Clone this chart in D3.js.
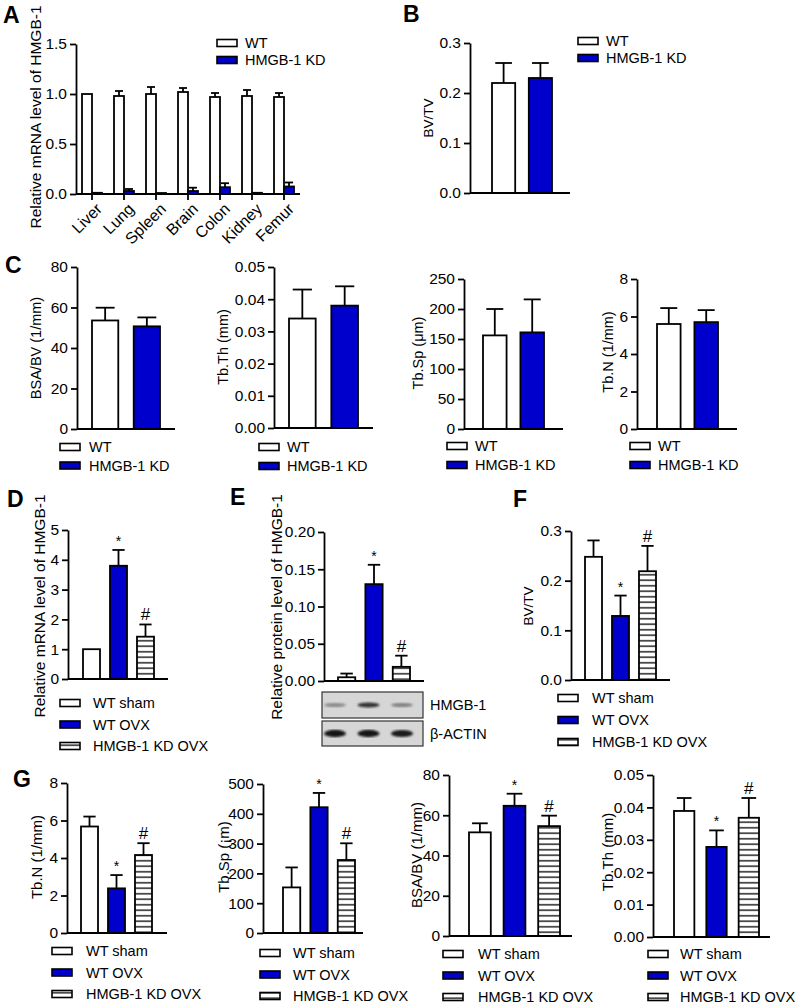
<!DOCTYPE html>
<html>
<head>
<meta charset="utf-8">
<script src="https://cdn.jsdelivr.net/npm/d3@7"></script>
<style>
  body { margin: 0; background: #fff; }
  svg { display: block; font-family: Arial, "Liberation Sans", sans-serif; }
</style>
</head>
<body>
<script>
// ---- data ----
var tissues = ["Liver", "Lung", "Spleen", "Brain", "Colon", "Kidney", "Femur"];
var groups2 = ["WT", "HMGB-1 KD"];
var groups3 = ["WT sham", "WT OVX", "HMGB-1 KD OVX"];

// A: relative mRNA per tissue
var mrnaWT = [1.0, 0.98, 1.0, 1.02, 0.97, 0.98, 0.97];
var mrnaWTErr = [0, 0.05, 0.07, 0.04, 0.04, 0.06, 0.04];
var mrnaKD = [0.012, 0.03, 0.01, 0.03, 0.068, 0.012, 0.075];
var mrnaKDErr = [0, 0.02, 0, 0.033, 0.04, 0, 0.04];

// B, C: WT vs KD
var bvtv2 = [0.22, 0.23], bvtv2Err = [0.04, 0.03];
var bsabv2 = [53.6, 50.7], bsabv2Err = [6.3, 4.4];
var tbth2 = [0.034, 0.038], tbth2Err = [0.009, 0.006];
var tbsp2 = [156, 161], tbsp2Err = [44, 55];
var tbn2 = [5.6, 5.7], tbn2Err = [0.85, 0.64];

// D - G: sham / OVX / KD OVX
var mrna3 = [1.0, 3.8, 1.42], mrna3Err = [0, 0.53, 0.41];
var protein3 = [0.005, 0.13, 0.019], protein3Err = [0.005, 0.026, 0.015];
var bvtv3 = [0.248, 0.129, 0.219], bvtv3Err = [0.033, 0.041, 0.051];
var tbn3 = [5.68, 2.38, 4.16], tbn3Err = [0.53, 0.71, 0.63];
var tbsp3 = [153, 422, 245], tbsp3Err = [67, 48, 56];
var bsabv3 = [51.5, 64.7, 54.6], bsabv3Err = [4.5, 6.0, 5.2];
var tbth3 = [0.0389, 0.0278, 0.0368], tbth3Err = [0.004, 0.0051, 0.0061];
var marks3 = ["", "*", "#"];

// western blot band strength (0..1)
var blotHMGB = [0.35, 0.8, 0.4];
var blotActin = [0.95, 0.95, 0.92];

var BLUE = "#0000cd";
var fills = {
  "WT": "#fff", "HMGB-1 KD": BLUE,
  "WT sham": "#fff", "WT OVX": BLUE, "HMGB-1 KD OVX": "url(#hatch)"
};

var svg = d3.select("body").append("svg").attr("width", 797).attr("height", 1005);
var defs = svg.append("defs");
var pat = defs.append("pattern").attr("id", "hatch")
  .attr("patternUnits", "userSpaceOnUse").attr("width", 8).attr("height", 5.5);
pat.append("rect").attr("width", 8).attr("height", 5.5).attr("fill", "#fff");
pat.append("line").attr("x1", 0).attr("x2", 8).attr("y1", 2.75).attr("y2", 2.75)
  .attr("stroke", "#000").attr("stroke-width", 1.3);
defs.append("filter").attr("id", "blur").append("feGaussianBlur").attr("stdDeviation", 1.1);

function panelLetter(t, x, y) {
  svg.append("text").attr("x", x).attr("y", y).attr("font-size", 23)
    .attr("font-weight", "bold").text(t);
}

function yLabel(t, x, y, size) {
  svg.append("text").attr("transform", "translate(" + x + "," + y + ") rotate(-90)")
    .attr("text-anchor", "middle").attr("font-size", size || 14).text(t);
}

function yAxis(g, y, ax, max, step, fmt) {
  var axis = d3.axisLeft(y).tickValues(d3.range(0, max + step / 2, step))
    .tickSize(6).tickSizeOuter(0).tickPadding(3).tickFormat(d3.format(fmt));
  var a = g.append("g").attr("transform", "translate(" + ax + ",0)").call(axis);
  a.select(".domain").attr("stroke", "#000").attr("stroke-width", 1.8);
  a.selectAll(".tick line").attr("stroke", "#000").attr("stroke-width", 1.8);
  a.selectAll(".tick text").attr("font-size", 15.5).attr("fill", "#000")
    .attr("font-family", "Arial, 'Liberation Sans', sans-serif");
}

function legend(groups, o) {
  var lg = svg.append("g");
  groups.forEach(function (d, i) {
    var yy = o.y + i * o.dy;
    lg.append("rect").attr("x", o.x).attr("y", yy - 3.5).attr("width", 20).attr("height", 7)
      .attr("fill", fills[d]).attr("stroke", "#000").attr("stroke-width", 1.6);
    lg.append("text").attr("x", o.tx).attr("y", yy).attr("dy", "0.36em")
      .attr("font-size", 14.5).text(d);
  });
}

function barChart(o) {
  var g = svg.append("g");
  var y = d3.scaleLinear().domain([0, o.max]).range([o.y0, o.y1]);
  var x = d3.scaleBand().domain(o.groups).range(o.bars).paddingInner(0.37);
  var bw = x.bandwidth();

  g.selectAll("rect.bar").data(o.groups).join("rect").attr("class", "bar")
    .attr("x", function (d) { return x(d); })
    .attr("y", function (d, i) { return y(o.vals[i]); })
    .attr("width", bw)
    .attr("height", function (d, i) { return o.y0 - y(o.vals[i]); })
    .attr("fill", function (d) { return fills[d]; })
    .attr("stroke", "#000").attr("stroke-width", 1.8);

  o.groups.forEach(function (d, i) {
    var cx = x(d) + bw / 2;
    var top = y(o.vals[i] + o.errs[i]);
    if (o.errs[i] > 0) {
      g.append("line").attr("x1", cx).attr("x2", cx).attr("y1", y(o.vals[i])).attr("y2", top)
        .attr("stroke", "#000").attr("stroke-width", 1.8);
      g.append("line").attr("x1", cx - bw * 0.36).attr("x2", cx + bw * 0.36)
        .attr("y1", top).attr("y2", top).attr("stroke", "#000").attr("stroke-width", 1.8);
    }
    if (o.marks && o.marks[i]) {
      g.append("text").attr("x", cx).attr("y", top - 4).attr("text-anchor", "middle")
        .attr("font-size", o.marks[i] === "*" ? 14 : 17).text(o.marks[i]);
    }
  });

  yAxis(g, y, o.ax, o.max, o.step, o.fmt);
  g.append("line").attr("x1", o.ax).attr("x2", o.xEnd).attr("y1", o.y0).attr("y2", o.y0)
    .attr("stroke", "#000").attr("stroke-width", 1.8);

  yLabel(o.ylabel, o.lx, o.ly, o.ls);
  if (o.legend) legend(o.groups, o.legend);
  return x;
}

// ---- panel A: grouped bars per tissue ----
(function () {
  var g = svg.append("g");
  var y = d3.scaleLinear().domain([0, 1.5]).range([194, 44]);
  var x = d3.scaleBand().domain(tissues).range([76, 300]).paddingInner(0.375).paddingOuter(0.1875);
  var xs = d3.scaleBand().domain(groups2).range([0, x.bandwidth()]);
  var series = [[mrnaWT, mrnaWTErr], [mrnaKD, mrnaKDErr]];

  tissues.forEach(function (t, i) {
    groups2.forEach(function (grp, k) {
      var v = series[k][0][i], e = series[k][1][i];
      var bx = x(t) + xs(grp), bw = xs.bandwidth(), cx = bx + bw / 2;
      g.append("rect").attr("x", bx).attr("y", y(v)).attr("width", bw)
        .attr("height", 194 - y(v)).attr("fill", fills[grp])
        .attr("stroke", "#000").attr("stroke-width", 1.8);
      if (e > 0) {
        g.append("line").attr("x1", cx).attr("x2", cx).attr("y1", y(v)).attr("y2", y(v + e))
          .attr("stroke", "#000").attr("stroke-width", 1.8);
        g.append("line").attr("x1", cx - 4).attr("x2", cx + 4).attr("y1", y(v + e)).attr("y2", y(v + e))
          .attr("stroke", "#000").attr("stroke-width", 1.8);
      }
    });
  });

  yAxis(g, y, 76, 1.5, 0.5, ".1f");
  g.append("line").attr("x1", 76).attr("x2", 300).attr("y1", 194).attr("y2", 194)
    .attr("stroke", "#000").attr("stroke-width", 1.8);
  tissues.forEach(function (t) {
    var cx = x(t) + x.bandwidth() / 2;
    g.append("line").attr("x1", cx).attr("x2", cx).attr("y1", 194).attr("y2", 200)
      .attr("stroke", "#000").attr("stroke-width", 1.8);
    g.append("text").attr("transform", "translate(" + (cx + 3) + ",202) rotate(-45)")
      .attr("text-anchor", "end").attr("dy", "0.71em").attr("font-size", 16).text(t);
  });
  yLabel("Relative mRNA level of HMGB-1", 41, 117, 15.5);
  legend(groups2, { x: 217, y: 43, dy: 17, tx: 245 });
})();

// ---- panels B - G ----
barChart({ groups: groups2, vals: bvtv2, errs: bvtv2Err, ax: 470, xEnd: 570, y0: 193, y1: 43,
  max: 0.3, step: 0.1, fmt: ".1f", bars: [492, 552], ylabel: "BV/TV", lx: 433, ly: 118, ls: 13.5,
  legend: { x: 578, y: 41, dy: 17, tx: 606 } });

barChart({ groups: groups2, vals: bsabv2, errs: bsabv2Err, ax: 77, xEnd: 175, y0: 429, y1: 267,
  max: 80, step: 20, fmt: "d", bars: [92, 160], ylabel: "BSA/BV (1/mm)", lx: 41, ly: 348, ls: 14.5,
  legend: { x: 60, y: 447, dy: 18.5, tx: 89 } });
barChart({ groups: groups2, vals: tbth2, errs: tbth2Err, ax: 274, xEnd: 373, y0: 428, y1: 267,
  max: 0.05, step: 0.01, fmt: ".2f", bars: [289, 358], ylabel: "Tb.Th (mm)", lx: 228, ly: 347, ls: 14.5,
  legend: { x: 259, y: 447, dy: 19, tx: 287 } });
barChart({ groups: groups2, vals: tbsp2, errs: tbsp2Err, ax: 464, xEnd: 563, y0: 429, y1: 279,
  max: 250, step: 50, fmt: "d", bars: [483, 544], ylabel: "Tb.Sp (\u03bcm)", lx: 423, ly: 353, ls: 14.5,
  legend: { x: 447, y: 446, dy: 19, tx: 475 } });
barChart({ groups: groups2, vals: tbn2, errs: tbn2Err, ax: 637, xEnd: 737, y0: 429, y1: 279,
  max: 8, step: 2, fmt: "d", bars: [657, 718], ylabel: "Tb.N (1/mm)", lx: 613, ly: 352, ls: 14.5,
  legend: { x: 630, y: 446, dy: 19, tx: 658 } });

barChart({ groups: groups3, vals: mrna3, errs: mrna3Err, marks: marks3, ax: 68, xEnd: 168, y0: 679, y1: 530,
  max: 5, step: 1, fmt: "d", bars: [83, 154], ylabel: "Relative mRNA level of HMGB-1", lx: 45, ly: 606, ls: 15.5,
  legend: { x: 60, y: 703, dy: 21.5, tx: 93 } });
var xE = barChart({ groups: groups3, vals: protein3, errs: protein3Err, marks: marks3, ax: 324, xEnd: 424, y0: 681, y1: 532,
  max: 0.2, step: 0.05, fmt: ".2f", bars: [338, 410], ylabel: "Relative protein level of HMGB-1", lx: 282, ly: 607, ls: 15.5 });
barChart({ groups: groups3, vals: bvtv3, errs: bvtv3Err, marks: marks3, ax: 571, xEnd: 670, y0: 680, y1: 531,
  max: 0.3, step: 0.1, fmt: ".1f", bars: [585, 656], ylabel: "BV/TV", lx: 533, ly: 606, ls: 13.5,
  legend: { x: 558, y: 698, dy: 22, tx: 592 } });

barChart({ groups: groups3, vals: tbn3, errs: tbn3Err, marks: marks3, ax: 67, xEnd: 167, y0: 933, y1: 783,
  max: 8, step: 2, fmt: "d", bars: [81, 152], ylabel: "Tb.N (1/mm)", lx: 42, ly: 857, ls: 15,
  legend: { x: 52, y: 951, dy: 21.5, tx: 86 } });
barChart({ groups: groups3, vals: tbsp3, errs: tbsp3Err, marks: marks3, ax: 263, xEnd: 363, y0: 933, y1: 784,
  max: 500, step: 100, fmt: "d", bars: [283, 355], ylabel: "Tb.Sp (\u00a1m)", lx: 229, ly: 857, ls: 15,
  legend: { x: 260, y: 953, dy: 21.5, tx: 293 } });
barChart({ groups: groups3, vals: bsabv3, errs: bsabv3Err, marks: marks3, ax: 449, xEnd: 572, y0: 936, y1: 775,
  max: 80, step: 20, fmt: "d", bars: [469, 560], ylabel: "BSA/BV (1/mm)", lx: 422, ly: 855, ls: 15,
  legend: { x: 443, y: 954, dy: 21.5, tx: 478 } });
barChart({ groups: groups3, vals: tbth3, errs: tbth3Err, marks: marks3, ax: 653, xEnd: 770, y0: 937, y1: 775,
  max: 0.05, step: 0.01, fmt: ".2f", bars: [674, 759], ylabel: "Tb.Th (mm)", lx: 613, ly: 852, ls: 15,
  legend: { x: 648, y: 954, dy: 21.5, tx: 680 } });

// ---- western blot under E ----
(function () {
  var lanes = d3.scalePoint().domain(groups3).range([335, 402]);
  var shade = d3.interpolateRgb("#cfcfcf", "#0a0a0a");
  var rows = [
    { name: "HMGB-1", y: 692, h: 26, vals: blotHMGB, ry: 2.6 },
    { name: "\u03b2-ACTIN", y: 721, h: 25, vals: blotActin, ry: 3.4 }
  ];
  rows.forEach(function (r) {
    svg.append("rect").attr("x", 322).attr("y", r.y).attr("width", 101).attr("height", r.h)
      .attr("fill", "#d6d6d6").attr("stroke", "#333").attr("stroke-width", 1.2);
    groups3.forEach(function (d, i) {
      svg.append("ellipse").attr("cx", lanes(d)).attr("cy", r.y + r.h / 2)
        .attr("rx", 11).attr("ry", r.ry * (0.6 + 0.5 * r.vals[i]))
        .attr("fill", shade(r.vals[i])).attr("filter", "url(#blur)");
    });
    svg.append("text").attr("x", 430).attr("y", r.y + r.h / 2).attr("dy", "0.36em")
      .attr("font-size", 14.5).text(r.name);
  });
})();

panelLetter("A", 3, 23);
panelLetter("B", 403, 22);
panelLetter("C", 5, 273);
panelLetter("D", 7, 507);
panelLetter("E", 230, 505);
panelLetter("F", 513, 507);
panelLetter("G", 13, 787);
</script>
</body>
</html>
